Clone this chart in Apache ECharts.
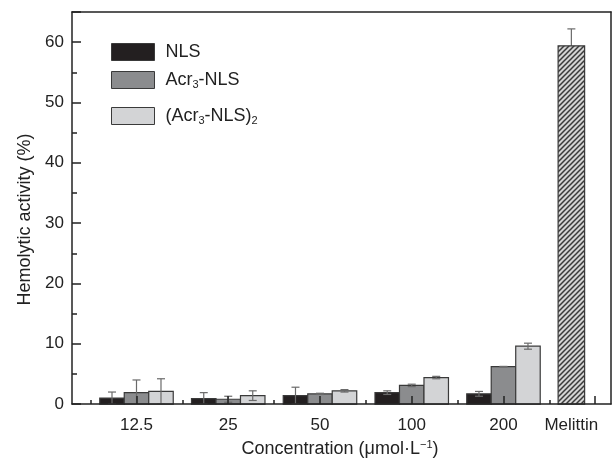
<!DOCTYPE html>
<html><head><meta charset="utf-8">
<script src="https://cdn.jsdelivr.net/npm/echarts@6/dist/echarts.min.js"></script>
<style>html,body{margin:0;padding:0;background:#fff}#c{width:614px;height:463px}</style>
</head><body><div id="c"></div>
<script>
// ---- data ----
const categories = ['12.5', '25', '50', '100', '200', 'Melittin'];
const groupPos = [1, 2, 3, 4, 5];
const labelPos = [1, 2, 3, 4, 5, 5.74];
const melittinPos = [5.74];
const nls = [1.0, 0.9, 1.4, 1.9, 1.7];
const nlsErr = [1.0, 1.0, 1.4, 0.3, 0.4];
const acr = [1.9, 0.8, 1.7, 3.1, 6.2];
const acrErr = [2.1, 0.5, 0.1, 0.2, 0.05];
const dimer = [2.1, 1.4, 2.2, 4.4, 9.6];
const dimerErr = [2.1, 0.8, 0.2, 0.2, 0.5];
const melittin = [59.4];
const melittinErr = [2.8];
const majorTicks = [1, 2, 3, 4, 5, 6];
const minorTicks = [0.5, 1.5, 2.5, 3.5, 4.5, 5.5];
const yLabels = [0, 10, 20, 30, 40, 50, 60];

const FONT = 'Liberation Sans, Arial, Helvetica, sans-serif';
const X_MIN = 0.297, X_MAX = 6.172;

// hatch pattern for Melittin
const pc = document.createElement('canvas');
pc.width = 5; pc.height = 5;
const g = pc.getContext('2d');
g.fillStyle = '#d4d4d4'; g.fillRect(0, 0, 5, 5);
g.strokeStyle = '#3a3a3a'; g.lineWidth = 1.5;
g.beginPath();
g.moveTo(-1, 6); g.lineTo(6, -1);
g.moveTo(-1, 1); g.lineTo(1, -1);
g.moveTo(4, 6); g.lineTo(6, 4);
g.stroke();
const hatch = { image: pc, repeat: 'repeat' };

function makeRender(offsetIdx, widthUnits, fill, errBehind) {
  return function (params, api) {
    const x = api.value(0), y = api.value(1), e = api.value(2);
    const w = api.size([widthUnits, 0])[0];
    const top = api.coord([x, y]);
    const base = api.coord([x, 0]);
    const cx = top[0] + offsetIdx * w;
    const lo = api.coord([x, Math.max(0, y - e)]);
    const hi = api.coord([x, y + e]);
    const cap = 4;
    const es = { stroke: '#6a6a6a', lineWidth: 1.2 };
    const rect = { type: 'rect', shape: { x: cx - w / 2, y: top[1], width: w, height: base[1] - top[1] },
      style: { fill: fill, stroke: '#3a3a3a', lineWidth: 1.2 } };
    const errs = [
      { type: 'line', shape: { x1: cx, y1: lo[1], x2: cx, y2: hi[1] }, style: es },
      { type: 'line', shape: { x1: cx - cap, y1: hi[1], x2: cx + cap, y2: hi[1] }, style: es },
      { type: 'line', shape: { x1: cx - cap, y1: lo[1], x2: cx + cap, y2: lo[1] }, style: es }
    ];
    return { type: 'group', children: errBehind ? errs.concat([rect]) : [rect].concat(errs) };
  };
}

const BW = 0.267;
const colors = ['#231f20', '#8b8c8e', '#d3d4d6'];
function rows(vals, errs, pos) { return vals.map((v, i) => [pos[i], v, errs[i]]); }

function legendCfg(name, top, color) {
  return {
    left: 111, top: top, orient: 'vertical', padding: 0,
    itemWidth: 43, itemHeight: 17, icon: 'rect',
    data: [{ name: name, itemStyle: { color: color, borderColor: '#3a3a3a', borderWidth: 1 } }],
    textStyle: {
      fontFamily: FONT, fontSize: 18, color: '#222', padding: [0, 0, 0, 6],
      rich: {
        a: { fontFamily: FONT, fontSize: 18, color: '#222', lineHeight: 20, verticalAlign: 'middle' },
        s: { fontFamily: FONT, fontSize: 11, color: '#222', lineHeight: 11, verticalAlign: 'bottom' }
      }
    },
    formatter: function (n) {
      if (n === 'NLS') return '{a|NLS}';
      if (n === 'Acr3-NLS') return '{a|Acr}{s|3}{a|-NLS}';
      return '{a|(Acr}{s|3}{a|-NLS)}{s|2}';
    }
  };
}

const axisLine = { show: true, lineStyle: { color: '#222', width: 1.5 } };

const option = {
  animation: false,
  backgroundColor: '#fff',
  grid: { left: 72, right: 3, top: 12, bottom: 54 },
  legend: [
    legendCfg('NLS', 43, colors[0]),
    legendCfg('Acr3-NLS', 71, colors[1]),
    legendCfg('(Acr3-NLS)2', 107, colors[2])
  ],
  xAxis: [
    {
      type: 'value', min: X_MIN, max: X_MAX, position: 'bottom', z: 10,
      axisLine: axisLine,
      axisTick: { show: true, inside: true, length: 8, customValues: majorTicks, lineStyle: { color: '#222', width: 1.5 } },
      axisLabel: {
        customValues: labelPos, fontFamily: FONT, fontSize: 17, color: '#222', margin: 13,
        formatter: function (v) {
          let best = 0;
          labelPos.forEach((p, i) => { if (Math.abs(p - v) < Math.abs(labelPos[best] - v)) best = i; });
          return categories[best];
        }
      },
      splitLine: { show: false },
      name: '{a|Concentration (μmol·L}{s|−1}{a|)}',
      nameLocation: 'middle', nameGap: 34,
      nameTextStyle: {
        padding: [0, 3, 0, 0],
        rich: {
          a: { fontFamily: FONT, fontSize: 18, color: '#222', lineHeight: 20, verticalAlign: 'middle' },
          s: { fontFamily: FONT, fontSize: 11, color: '#222', lineHeight: 20, verticalAlign: 'top', padding: [0, 0, 8, 0] }
        }
      }
    },
    {
      type: 'value', min: X_MIN, max: X_MAX, position: 'bottom', z: 10,
      axisLine: { show: false },
      axisTick: { show: true, inside: true, length: 4, customValues: minorTicks, lineStyle: { color: '#222', width: 1.5 } },
      axisLabel: { show: false }, splitLine: { show: false }
    },
    {
      type: 'value', min: X_MIN, max: X_MAX, position: 'top',
      axisLine: axisLine, axisTick: { show: false }, axisLabel: { show: false }, splitLine: { show: false }
    }
  ],
  yAxis: [
    {
      type: 'value', min: 0, max: 65, interval: 10, position: 'left', z: 10,
      axisLine: axisLine,
      axisTick: { show: true, inside: true, length: 9, lineStyle: { color: '#222', width: 1.5 } },
      minorTick: { show: true, splitNumber: 2, length: 5, lineStyle: { color: '#222', width: 1.5 } },
      axisLabel: { customValues: yLabels, fontFamily: FONT, fontSize: 17, color: '#222', margin: 8 },
      splitLine: { show: false },
      name: 'Hemolytic activity (%)', nameLocation: 'middle', nameRotate: 90, nameGap: 37,
      nameTextStyle: { fontFamily: FONT, fontSize: 18, color: '#222', padding: [0, 23, 0, 0] }
    },
    {
      type: 'value', min: 0, max: 65, position: 'right',
      axisLine: axisLine, axisTick: { show: false }, axisLabel: { show: false }, splitLine: { show: false }
    }
  ],
  series: [
    { name: 'NLS', type: 'custom', xAxisIndex: 0, yAxisIndex: 0, encode: { x: 0, y: 1 },
      itemStyle: { color: colors[0] }, renderItem: makeRender(-1, BW, colors[0], false), data: rows(nls, nlsErr, groupPos) },
    { name: 'Acr3-NLS', type: 'custom', xAxisIndex: 0, yAxisIndex: 0, encode: { x: 0, y: 1 },
      itemStyle: { color: colors[1] }, renderItem: makeRender(0, BW, colors[1], false), data: rows(acr, acrErr, groupPos) },
    { name: '(Acr3-NLS)2', type: 'custom', xAxisIndex: 0, yAxisIndex: 0, encode: { x: 0, y: 1 },
      itemStyle: { color: colors[2] }, renderItem: makeRender(1, BW, colors[2], false), data: rows(dimer, dimerErr, groupPos) },
    { name: 'Melittin', type: 'custom', xAxisIndex: 0, yAxisIndex: 0, encode: { x: 0, y: 1 },
      renderItem: makeRender(0, 0.289, hatch, true), data: rows(melittin, melittinErr, melittinPos) }
  ]
};

const chart = echarts.init(document.getElementById('c'), null, { renderer: 'canvas' });
chart.setOption(option);
</script>
</body></html>
